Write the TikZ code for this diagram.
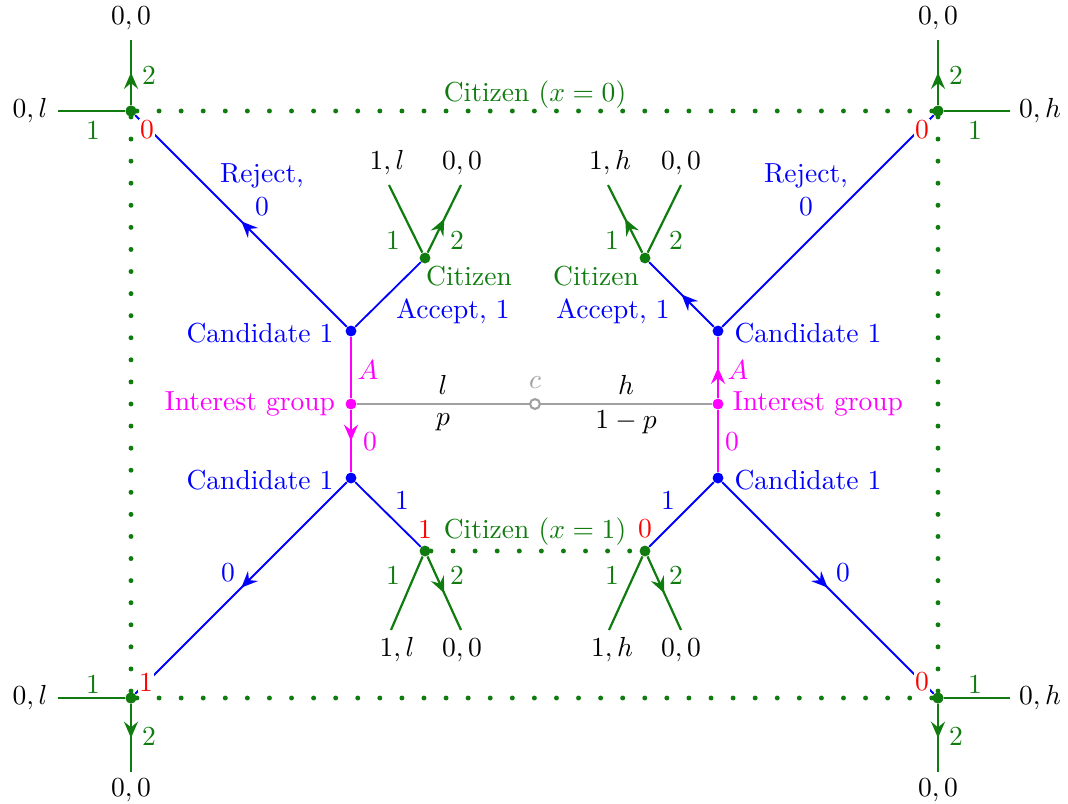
\documentclass[tikz,border=0pt]{standalone}
\usepackage{fix-cm}
\usetikzlibrary{arrows.meta,decorations.markings}
\definecolor{cgreen}{RGB}{16,124,16}
\definecolor{cgray}{RGB}{160,160,160}
\definecolor{cblue}{RGB}{0,0,255}
\definecolor{cmag}{RGB}{255,0,255}
\definecolor{cred}{RGB}{255,0,0}
\begin{document}
\begin{tikzpicture}[x=0.385pt,y=-0.385pt,
  every node/.style={inner sep=1pt,font=\fontsize{10.6}{13}\selectfont},
  gdot/.style={circle,fill=cgreen,inner sep=0pt,minimum size=4.2pt},
  bdot/.style={circle,fill=cblue,inner sep=0pt,minimum size=4.2pt},
  mdot/.style={circle,fill=cmag,inner sep=0pt,minimum size=4.2pt},
  hollow/.style={circle,draw=cgray,fill=white,line width=0.8pt,inner sep=0pt,minimum size=3.8pt},
  midarrow/.style={decoration={markings,mark=at position 0.5 with {\arrow{Stealth[length=6.3pt,width=5.4pt,inset=2.2pt]}}},postaction={decorate}},
  gedge/.style={draw=cgreen,line width=0.85pt},
  bedge/.style={draw=cblue,line width=0.7pt},
  medge/.style={draw=cmag,line width=0.85pt},
  gyedge/.style={draw=cgray,line width=0.8pt},
  infoset/.style={draw=cgreen,line width=1.9pt,line cap=round,dash pattern=on 0pt off 8.5pt},
  glbl/.style={text=cgreen},
  blbl/.style={text=cblue},
  mlbl/.style={text=cmag},
  rlbl/.style={text=cred,fill=white,inner sep=0.5pt},
  pay/.style={text=black}
]
\useasboundingbox (0,0) rectangle (1068,804);

% decision nodes
\node[gdot] (TL) at (131,111) {};
\node[gdot] (TR) at (938,111) {};
\node[gdot] (BL) at (131,698) {};
\node[gdot] (BR) at (938,698) {};
\node[bdot] (CL1) at (351,331) {};
\node[bdot] (CL2) at (351,478) {};
\node[bdot] (CR1) at (718,331) {};
\node[bdot] (CR2) at (718,478) {};
\node[mdot] (IL) at (351,404) {};
\node[mdot] (IR) at (718,404) {};
\node[gdot] (UL) at (425,258) {};
\node[gdot] (UR) at (645,258) {};
\node[gdot] (LL) at (425,551) {};
\node[gdot] (LR) at (645,551) {};

% free ends
\coordinate (TLu) at (131,40);
\coordinate (TLl) at (58,111);
\coordinate (TRu) at (938,40);
\coordinate (TRr) at (1010,111);
\coordinate (BLd) at (131,772);
\coordinate (BLl) at (58,698);
\coordinate (BRd) at (938,772);
\coordinate (BRr) at (1010,698);
\coordinate (ULa) at (389,185);
\coordinate (ULb) at (461,185);
\coordinate (URa) at (608,185);
\coordinate (URb) at (681,185);
\coordinate (LLa) at (391,630);
\coordinate (LLb) at (461,630);
\coordinate (LRa) at (609,630);
\coordinate (LRb) at (681,630);

% information sets
\draw[infoset] (TL) -- (TR);
\draw[infoset] (TL) -- (BL);
\draw[infoset] (BL) -- (BR);
\draw[infoset] (TR) -- (BR);
\draw[infoset] (LL) -- (LR);

% chance
\draw[gyedge] (IL) -- (535,404);
\draw[gyedge] (535,404) -- (IR);
\node[hollow] (C) at (535,404) {};

% interest group
\draw[medge] (IL) -- (CL1);
\draw[medge,midarrow] (IL) -- (CL2);
\draw[medge,midarrow] (IR) -- (CR1);
\draw[medge] (IR) -- (CR2);

% candidate
\draw[bedge,midarrow] (CL1) -- (TL);
\draw[bedge] (CL1) -- (UL);
\draw[bedge] (CR1) -- (TR);
\draw[bedge,midarrow] (CR1) -- (UR);
\draw[bedge,midarrow] (CL2) -- (BL);
\draw[bedge] (CL2) -- (LL);
\draw[bedge] (CR2) -- (LR);
\draw[bedge,midarrow] (CR2) -- (BR);

% citizen branches
\draw[gedge,midarrow] (TL) -- (TLu);
\draw[gedge] (TL) -- (TLl);
\draw[gedge,midarrow] (TR) -- (TRu);
\draw[gedge] (TR) -- (TRr);
\draw[gedge,midarrow] (BL) -- (BLd);
\draw[gedge] (BL) -- (BLl);
\draw[gedge,midarrow] (BR) -- (BRd);
\draw[gedge] (BR) -- (BRr);
\draw[gedge] (UL) -- (ULa);
\draw[gedge,midarrow] (UL) -- (ULb);
\draw[gedge,midarrow] (UR) -- (URa);
\draw[gedge] (UR) -- (URb);
\draw[gedge] (LL) -- (LLa);
\draw[gedge,midarrow] (LL) -- (LLb);
\draw[gedge] (LR) -- (LRa);
\draw[gedge,midarrow] (LR) -- (LRb);

% redraw dots on top
\node[gdot] at (TL) {};
\node[gdot] at (TR) {};
\node[gdot] at (BL) {};
\node[gdot] at (BR) {};

% payoffs
\node[pay] (pTLu) at (131,18) {$0,0$};
\node[pay] (pTLl) at (30,111) {$0,l$};
\node[pay] (pTRu) at (938,18) {$0,0$};
\node[pay] (pTRr) at (1040,111) {$0,h$};
\node[pay] (pBLd) at (131,790) {$0,0$};
\node[pay] (pBLl) at (30,698) {$0,l$};
\node[pay] (pBRd) at (938,790) {$0,0$};
\node[pay] (pBRr) at (1040,698) {$0,h$};
\node[pay] (pULa) at (387,163) {$1,l$};
\node[pay] (pULb) at (462,163) {$0,0$};
\node[pay] (pURa) at (610,163) {$1,h$};
\node[pay] (pURb) at (681,163) {$0,0$};
\node[pay] (pLLa) at (397,650) {$1,l$};
\node[pay] (pLLb) at (462,650) {$0,0$};
\node[pay] (pLRa) at (612,650) {$1,h$};
\node[pay] (pLRb) at (681,650) {$0,0$};

% green action labels
\node[glbl] (g1) at (93,130) {1};
\node[glbl] (g2) at (149,75) {2};
\node[glbl] (g3) at (975,130) {1};
\node[glbl] (g4) at (956,75) {2};
\node[glbl] (g5) at (93,684) {1};
\node[glbl] (g6) at (149,736) {2};
\node[glbl] (g7) at (975,684) {1};
\node[glbl] (g8) at (956,736) {2};
\node[glbl] (g9) at (393,240) {1};
\node[glbl] (g10) at (457,240) {2};
\node[glbl] (g11) at (612,240) {1};
\node[glbl] (g12) at (676,240) {2};
\node[glbl] (g13) at (393,575) {1};
\node[glbl] (g14) at (457,575) {2};
\node[glbl] (g15) at (612,575) {1};
\node[glbl] (g16) at (676,575) {2};
\node[glbl] (cit0) at (535,95) {Citizen ($x=0$)};
\node[glbl] (cit1) at (535,532) {Citizen ($x=1$)};
\node[glbl] (citUL) at (469,276) {Citizen};
\node[glbl] (citUR) at (596,276) {Citizen};

% red beliefs
\node[rlbl] (r1) at (147,130) {0};
\node[rlbl] (r2) at (922,130) {0};
\node[rlbl] (r3) at (146,682) {1};
\node[rlbl] (r4) at (922,682) {0};
\node[rlbl] (r5) at (425,529) {1};
\node[rlbl] (r6) at (645,529) {0};

% blue labels
\node[blbl,align=center] (rejL) at (262,190) {Reject,\\0};
\node[blbl,align=center] (rejR) at (806,190) {Reject,\\0};
\node[blbl] (accL) at (453,311) {Accept, 1};
\node[blbl] (accR) at (613,311) {Accept, 1};
\node[blbl] (candL1) at (260,333) {Candidate 1};
\node[blbl] (candR1) at (808,333) {Candidate 1};
\node[blbl] (candL2) at (260,480) {Candidate 1};
\node[blbl] (candR2) at (808,480) {Candidate 1};
\node[blbl] (b1) at (402,500) {1};
\node[blbl] (b2) at (668,500) {1};
\node[blbl] (b3) at (228,573) {0};
\node[blbl] (b4) at (843,573) {0};

% magenta labels
\node[mlbl] (igL) at (250,404) {Interest group};
\node[mlbl] (igR) at (818,404) {Interest group};
\node[mlbl] (aL) at (368,370) {$A$};
\node[mlbl] (aR) at (738,370) {$A$};
\node[mlbl] (zL) at (370,442) {0};
\node[mlbl] (zR) at (732,442) {0};

% chance labels
\node (lbl) at (443,385) {$l$};
\node (pbl) at (443,422) {$p$};
\node (hbl) at (626,385) {$h$};
\node (qbl) at (626,422) {$1-p$};
\node[text=cgray] (cbl) at (535,383) {$c$};
\end{tikzpicture}
\end{document}
